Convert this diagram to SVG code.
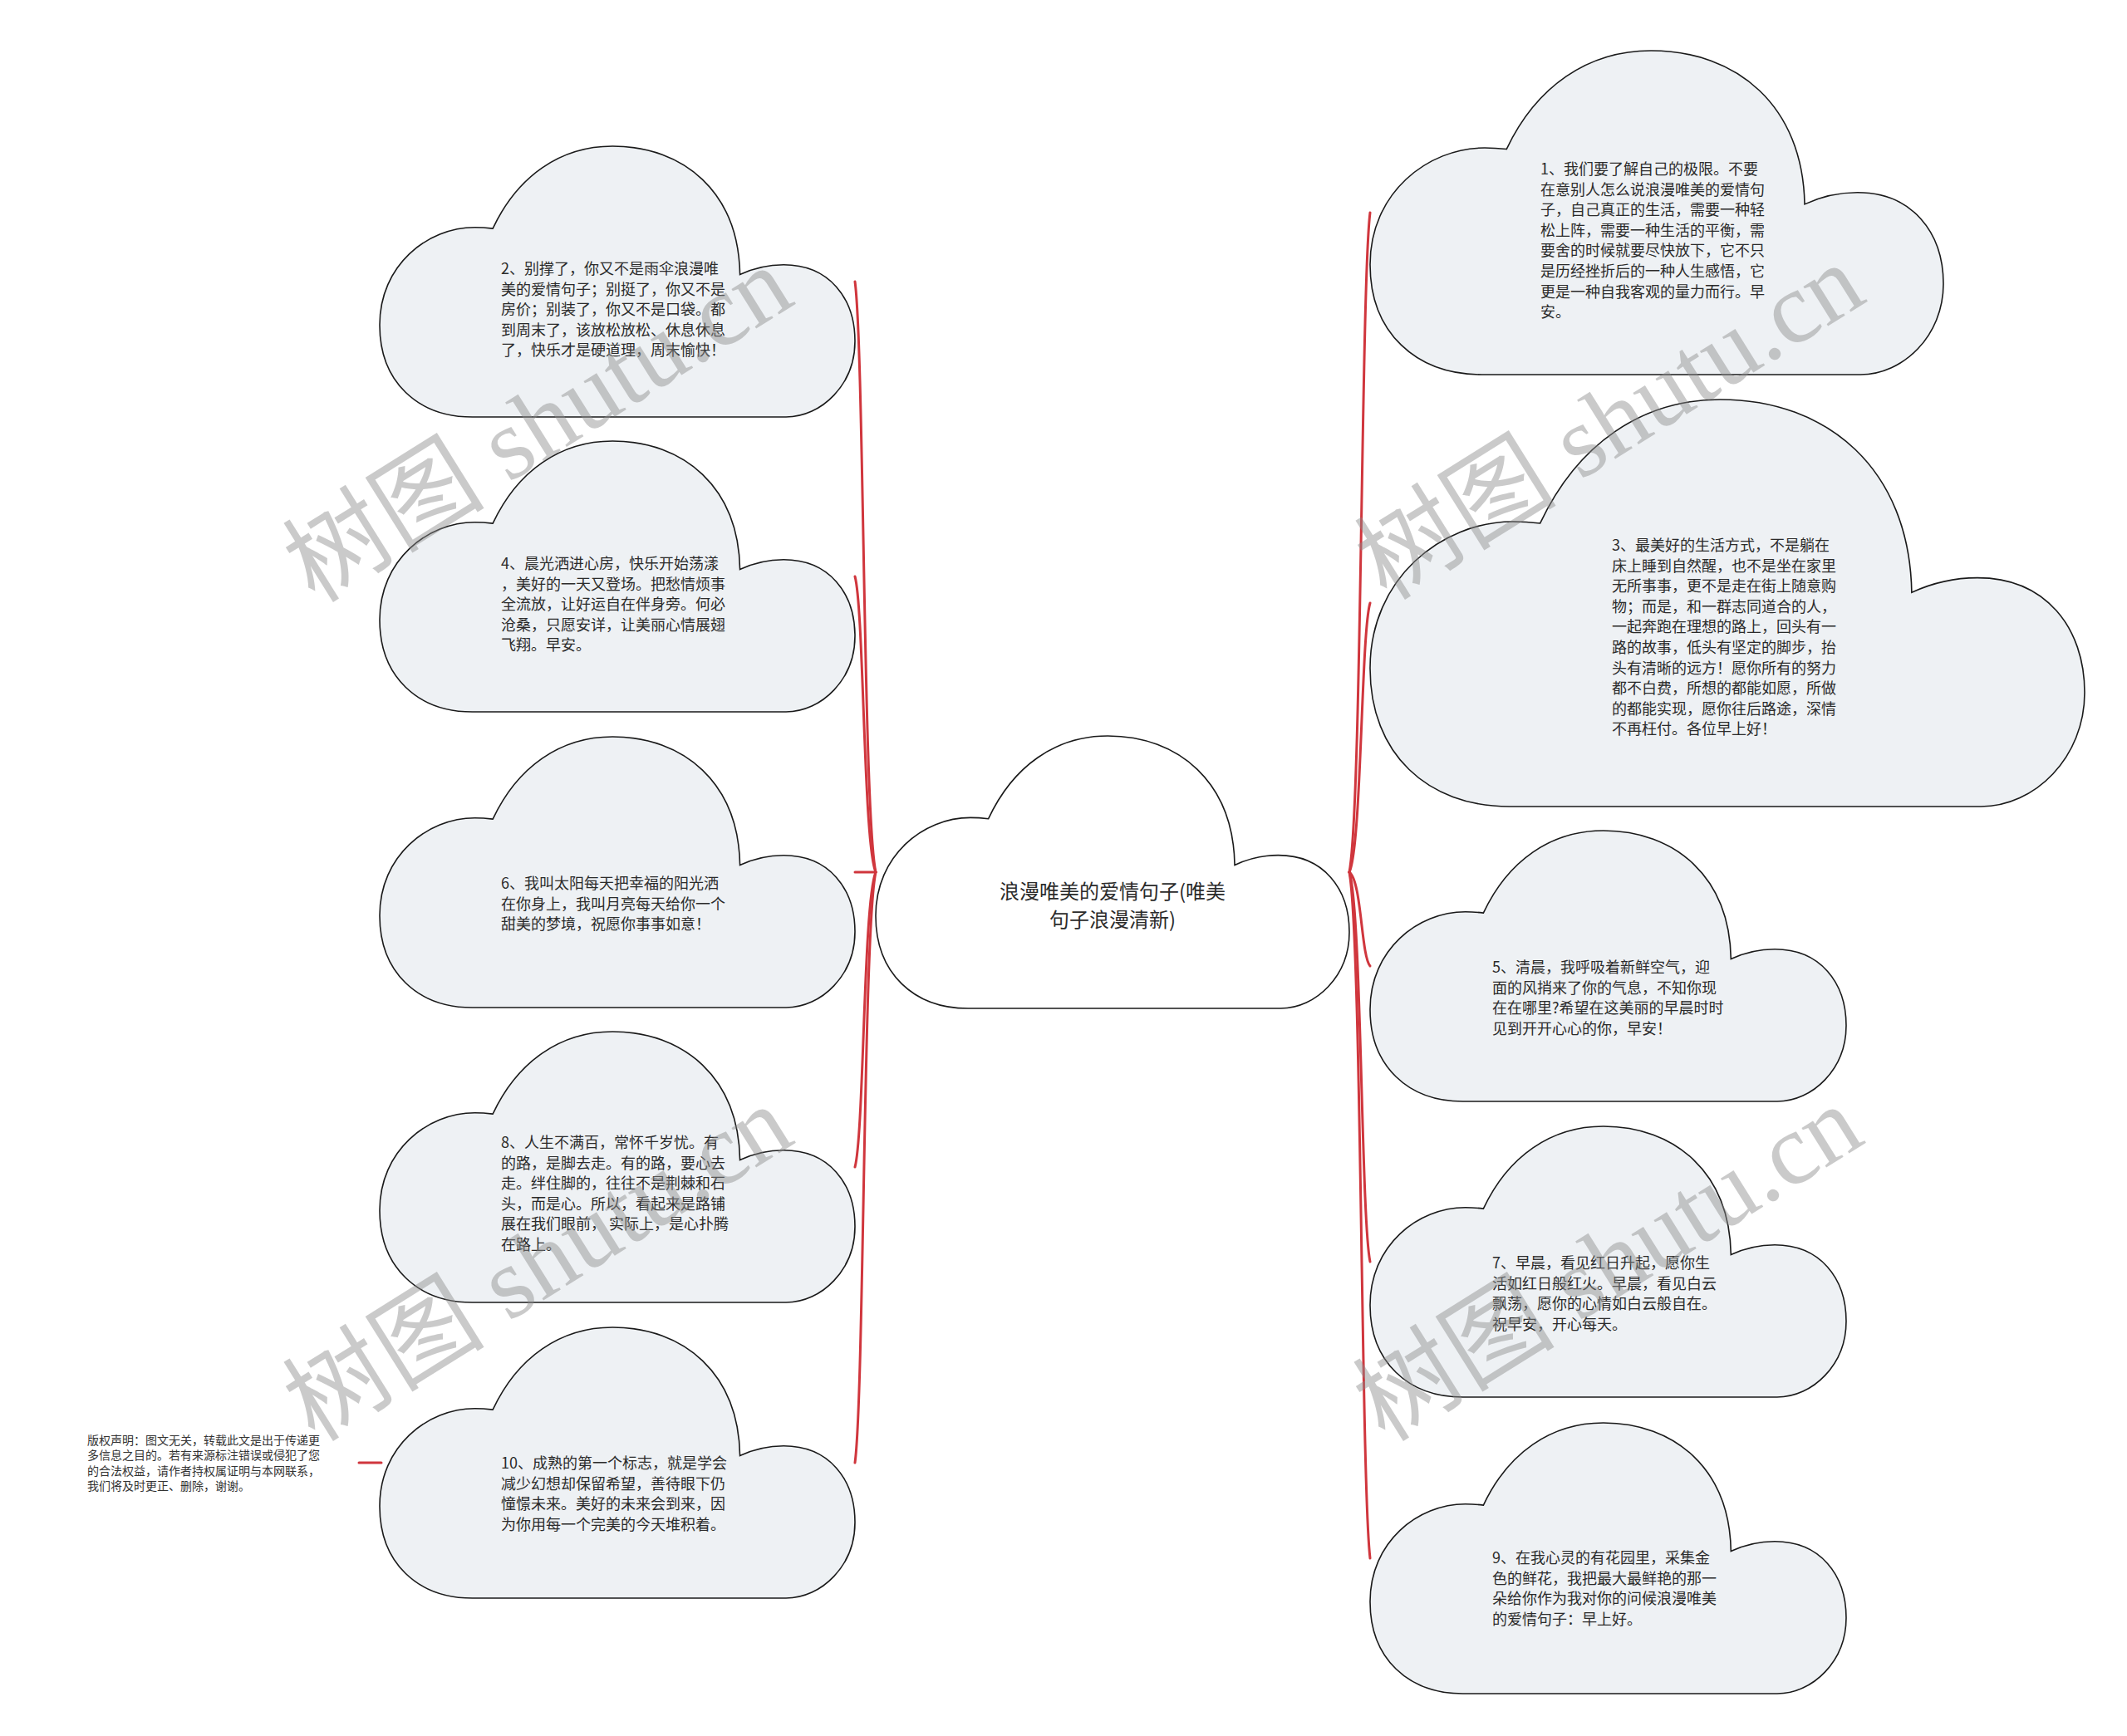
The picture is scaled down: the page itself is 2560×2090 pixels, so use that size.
<svg xmlns="http://www.w3.org/2000/svg" xmlns:xlink="http://www.w3.org/1999/xlink" width="2560" height="2090" viewBox="0 0 2560 2090">
<style>
.bg{fill:#ffffff}
.cloud{fill:#eef1f4;stroke:#1a1a1a;stroke-width:1.6}
.root{fill:#ffffff;stroke:#1a1a1a;stroke-width:1.6}
.txt{font-family:"Noto Sans CJK SC","Noto Sans",sans-serif;font-size:18px;fill:#2b2b2b}
.rtxt{font-family:"Noto Sans CJK SC","Noto Sans",sans-serif;font-size:24px;fill:#2b2b2b}
.copy{font-family:"Noto Sans CJK SC","Noto Sans",sans-serif;font-size:14px;fill:#333333}
.link{fill:none;stroke:#d0363d;stroke-width:3;stroke-linecap:round}
.wm{font-family:"Liberation Serif","Noto Sans CJK SC",serif;font-size:122px;fill:#8c8c8c;opacity:0.45}
</style>
<defs>
<path id="cloud" vector-effect="non-scaling-stroke" d="M195 1000 C80 1000 0 870 0 660 C0 440 100 300 200 300 C215 300 228 302 238 304 C290 110 380 0 490 0 C640 0 755 170 758 474 C790 448 820 438 850 438 C945 438 1000 560 1000 720 C1000 880 930 1000 855 1000 Z"/>
</defs>
<rect class="bg" x="0" y="0" width="2560" height="2090"/>

<g id="connectors">
<path class="link" d="M1054 1050 C1039 979 1040 421 1029 339"/>
<path class="link" d="M1054 1050 C1039 1014 1040 735 1029 694"/>
<path class="link" d="M1029 1050 L1054 1050"/>
<path class="link" d="M1054 1050 C1039 1086 1040 1364 1029 1405"/>
<path class="link" d="M1054 1050 C1039 1121 1040 1679 1029 1761"/>
<path class="link" d="M1624 1050 C1639 971 1638 347 1649 256"/>
<path class="link" d="M1624 1050 C1639 1018 1638 763 1649 726"/>
<path class="link" d="M1624 1050 C1639 1061 1638 1150 1649 1163"/>
<path class="link" d="M1624 1050 C1639 1097 1638 1465 1649 1519"/>
<path class="link" d="M1624 1050 C1639 1133 1638 1781 1649 1876"/>
<path class="link" d="M432 1761 L459 1761"/>
</g>

<g id="node-root">
<use xlink:href="#cloud" class="root" transform="translate(1054 886) scale(0.570 0.328)"/>
<text class="rtxt" text-anchor="middle"><tspan x="1339" y="1082">浪漫唯美的爱情句子(唯美</tspan><tspan x="1339" y="1116">句子浪漫清新)</tspan></text>
</g>

<g id="node-2">
<use xlink:href="#cloud" class="cloud" transform="translate(457 176) scale(0.572 0.326)"/>
<text class="txt"><tspan x="603" y="330">2、别撑了，你又不是雨伞浪漫唯</tspan><tspan x="603" dy="24.6">美的爱情句子；别挺了，你又不是</tspan><tspan x="603" dy="24.6">房价；别装了，你又不是口袋。都</tspan><tspan x="603" dy="24.6">到周末了，该放松放松、休息休息</tspan><tspan x="603" dy="24.6">了，快乐才是硬道理，周末愉快！</tspan></text>
</g>

<g id="node-4">
<use xlink:href="#cloud" class="cloud" transform="translate(457 531) scale(0.572 0.326)"/>
<text class="txt"><tspan x="603" y="685">4、晨光洒进心房，快乐开始荡漾</tspan><tspan x="603" dy="24.6">，美好的一天又登场。把愁情烦事</tspan><tspan x="603" dy="24.6">全流放，让好运自在伴身旁。何必</tspan><tspan x="603" dy="24.6">沧桑，只愿安详，让美丽心情展翅</tspan><tspan x="603" dy="24.6">飞翔。早安。</tspan></text>
</g>

<g id="node-6">
<use xlink:href="#cloud" class="cloud" transform="translate(457 887) scale(0.572 0.326)"/>
<text class="txt"><tspan x="603" y="1070">6、我叫太阳每天把幸福的阳光洒</tspan><tspan x="603" dy="24.6">在你身上，我叫月亮每天给你一个</tspan><tspan x="603" dy="24.6">甜美的梦境，祝愿你事事如意！</tspan></text>
</g>

<g id="node-8">
<use xlink:href="#cloud" class="cloud" transform="translate(457 1242) scale(0.572 0.326)"/>
<text class="txt"><tspan x="603" y="1382">8、人生不满百，常怀千岁忧。有</tspan><tspan x="603" dy="24.6">的路，是脚去走。有的路，要心去</tspan><tspan x="603" dy="24.6">走。绊住脚的，往往不是荆棘和石</tspan><tspan x="603" dy="24.6">头，而是心。所以，看起来是路铺</tspan><tspan x="603" dy="24.6">展在我们眼前， 实际上，是心扑腾</tspan><tspan x="603" dy="24.6">在路上。</tspan></text>
</g>

<g id="node-10">
<use xlink:href="#cloud" class="cloud" transform="translate(457 1598) scale(0.572 0.326)"/>
<text class="txt"><tspan x="603" y="1768">10、成熟的第一个标志，就是学会</tspan><tspan x="603" dy="24.6">减少幻想却保留希望，善待眼下仍</tspan><tspan x="603" dy="24.6">憧憬未来。美好的未来会到来，因</tspan><tspan x="603" dy="24.6">为你用每一个完美的今天堆积着。</tspan></text>
</g>

<g id="node-1">
<use xlink:href="#cloud" class="cloud" transform="translate(1649 61) scale(0.690 0.390)"/>
<text class="txt"><tspan x="1854" y="210">1、我们要了解自己的极限。不要</tspan><tspan x="1854" dy="24.6">在意别人怎么说浪漫唯美的爱情句</tspan><tspan x="1854" dy="24.6">子，自己真正的生活，需要一种轻</tspan><tspan x="1854" dy="24.6">松上阵，需要一种生活的平衡，需</tspan><tspan x="1854" dy="24.6">要舍的时候就要尽快放下，它不只</tspan><tspan x="1854" dy="24.6">是历经挫折后的一种人生感悟，它</tspan><tspan x="1854" dy="24.6">更是一种自我客观的量力而行。早</tspan><tspan x="1854" dy="24.6">安。</tspan></text>
</g>

<g id="node-3">
<use xlink:href="#cloud" class="cloud" transform="translate(1649 481) scale(0.860 0.490)"/>
<text class="txt"><tspan x="1940" y="663">3、最美好的生活方式，不是躺在</tspan><tspan x="1940" dy="24.6">床上睡到自然醒，也不是坐在家里</tspan><tspan x="1940" dy="24.6">无所事事，更不是走在街上随意购</tspan><tspan x="1940" dy="24.6">物；而是，和一群志同道合的人，</tspan><tspan x="1940" dy="24.6">一起奔跑在理想的路上，回头有一</tspan><tspan x="1940" dy="24.6">路的故事，低头有坚定的脚步，抬</tspan><tspan x="1940" dy="24.6">头有清晰的远方！愿你所有的努力</tspan><tspan x="1940" dy="24.6">都不白费，所想的都能如愿，所做</tspan><tspan x="1940" dy="24.6">的都能实现，愿你往后路途，深情</tspan><tspan x="1940" dy="24.6">不再枉付。各位早上好！</tspan></text>
</g>

<g id="node-5">
<use xlink:href="#cloud" class="cloud" transform="translate(1649 1000) scale(0.573 0.326)"/>
<text class="txt"><tspan x="1796" y="1171">5、清晨，我呼吸着新鲜空气，迎</tspan><tspan x="1796" dy="24.6">面的风捎来了你的气息，不知你现</tspan><tspan x="1796" dy="24.6">在在哪里?希望在这美丽的早晨时时</tspan><tspan x="1796" dy="24.6">见到开开心心的你，早安！</tspan></text>
</g>

<g id="node-7">
<use xlink:href="#cloud" class="cloud" transform="translate(1649 1356) scale(0.573 0.326)"/>
<text class="txt"><tspan x="1796" y="1527">7、早晨，看见红日升起，愿你生</tspan><tspan x="1796" dy="24.6">活如红日般红火。早晨，看见白云</tspan><tspan x="1796" dy="24.6">飘荡，愿你的心情如白云般自在。</tspan><tspan x="1796" dy="24.6">祝早安，开心每天。</tspan></text>
</g>

<g id="node-9">
<use xlink:href="#cloud" class="cloud" transform="translate(1649 1713) scale(0.573 0.326)"/>
<text class="txt"><tspan x="1796" y="1882">9、在我心灵的有花园里，采集金</tspan><tspan x="1796" dy="24.6">色的鲜花，我把最大最鲜艳的那一</tspan><tspan x="1796" dy="24.6">朵给你作为我对你的问候浪漫唯美</tspan><tspan x="1796" dy="24.6">的爱情句子：早上好。</tspan></text>
</g>

<g id="copyright">
<text class="copy"><tspan x="105" y="1739">版权声明：图文无关，转载此文是出于传递更</tspan><tspan x="105" dy="18.3">多信息之目的。若有来源标注错误或侵犯了您</tspan><tspan x="105" dy="18.3">的合法权益，请作者持权属证明与本网联系，</tspan><tspan x="105" dy="18.3">我们将及时更正、删除，谢谢。</tspan></text>
</g>

<g id="watermark">
<text class="wm" text-anchor="middle" transform="translate(648 512) rotate(-32)" y="40">树图 shutu.cn</text>
<text class="wm" text-anchor="middle" transform="translate(648 1522) rotate(-32)" y="40">树图 shutu.cn</text>
<text class="wm" text-anchor="middle" transform="translate(1938 509) rotate(-32)" y="40">树图 shutu.cn</text>
<text class="wm" text-anchor="middle" transform="translate(1936 1522) rotate(-32)" y="40">树图 shutu.cn</text>
</g>
</svg>
